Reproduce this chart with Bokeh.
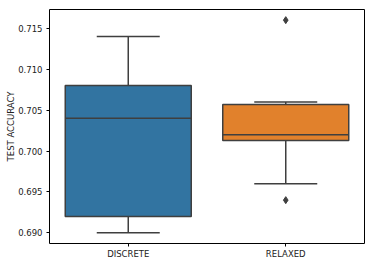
from bokeh.plotting import figure
from bokeh.models import FactorRange, Range1d, ColumnDataSource, SingleIntervalTicker, NumeralTickFormatter
from bokeh.transform import dodge
from bokeh.embed import file_html
from bokeh.resources import INLINE

categories = ["DISCRETE", "RELAXED"]
lower_whisker = [0.690, 0.696]
q1 = [0.692, 0.7013]
median = [0.704, 0.702]
q3 = [0.708, 0.7057]
upper_whisker = [0.714, 0.706]
colors = ["#3274a1", "#e1812c"]
outlier_cat = ["RELAXED", "RELAXED"]
outlier_val = [0.716, 0.694]

EDGE = "#3f3f3f"
FONT = "DejaVu Sans"

p = figure(x_range=FactorRange(*categories), y_range=Range1d(0.6887, 0.7173),
           width=366, height=262, output_backend="svg", toolbar_location=None,
           min_border_left=49, min_border_right=2, min_border_top=9, min_border_bottom=19)

src = ColumnDataSource(dict(cat=categories, lw=lower_whisker, q1=q1, med=median,
                            q3=q3, uw=upper_whisker, color=colors))

p.segment(x0="cat", y0="q3", x1="cat", y1="uw", source=src, line_color=EDGE, line_width=1.5)
p.segment(x0="cat", y0="q1", x1="cat", y1="lw", source=src, line_color=EDGE, line_width=1.5)
p.segment(x0=dodge("cat", -0.2, range=p.x_range), y0="uw",
          x1=dodge("cat", 0.2, range=p.x_range), y1="uw", source=src, line_color=EDGE, line_width=1.5)
p.segment(x0=dodge("cat", -0.2, range=p.x_range), y0="lw",
          x1=dodge("cat", 0.2, range=p.x_range), y1="lw", source=src, line_color=EDGE, line_width=1.5)
p.vbar(x="cat", bottom="q1", top="q3", width=0.8, source=src, fill_color="color",
       line_color=EDGE, line_width=1.5)
p.segment(x0=dodge("cat", -0.4, range=p.x_range), y0="med",
          x1=dodge("cat", 0.4, range=p.x_range), y1="med", source=src, line_color=EDGE, line_width=1.5)
p.scatter(x=outlier_cat, y=outlier_val, marker="diamond", size=7, fill_color=EDGE, line_color=EDGE)

p.xgrid.visible = False
p.ygrid.visible = False
p.outline_line_color = "black"
p.outline_line_width = 1
p.outline_line_alpha = 1

p.yaxis.ticker = SingleIntervalTicker(interval=0.005)
p.yaxis.formatter = NumeralTickFormatter(format="0.000")
p.yaxis.axis_label = "TEST ACCURACY"

for ax in (p.xaxis, p.yaxis):
    ax.axis_line_color = None
    ax.major_tick_in = 0
    ax.major_tick_out = 3
    ax.minor_tick_line_color = None
    ax.major_tick_line_color = "black"
    ax.major_label_text_font = FONT
    ax.major_label_text_font_size = "8.5px"
    ax.major_label_text_color = "#222222"
    ax.major_label_standoff = 3
    ax.axis_label_text_font = FONT
    ax.axis_label_text_font_size = "8.5px"
    ax.axis_label_text_font_style = "normal"
    ax.axis_label_text_color = "#222222"
p.xaxis.major_label_standoff = 2
p.yaxis.axis_label_standoff = -1

open("out.html", "w").write(file_html(p, INLINE))
